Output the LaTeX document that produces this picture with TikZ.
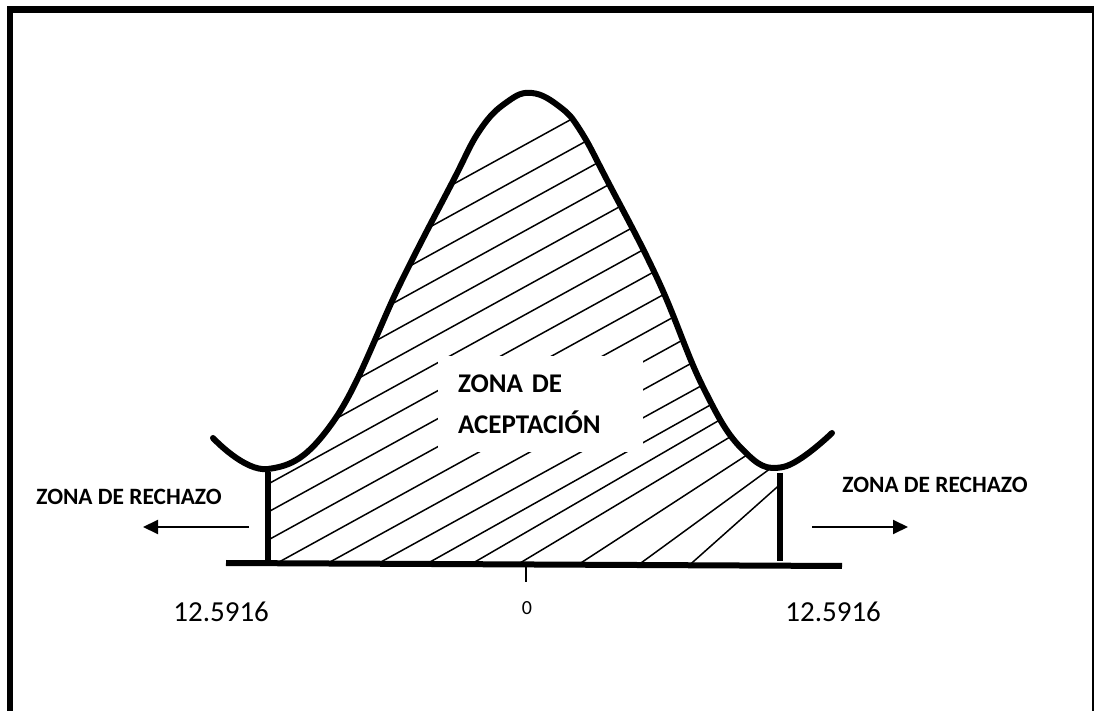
\documentclass[tikz,border=0pt]{standalone}
\usepackage{fontspec}
\setmainfont{Carlito}[BoldFont={Carlito Bold}]
\usepackage{tikz}
\usetikzlibrary{arrows.meta, positioning}
\tikzstyle{thickline} = [draw, line width=3pt]
\tikzstyle{rejectarrow} = [draw, -{Triangle[length=7.5pt,width=7pt]}, line width=1pt]

\begin{document}
\begin{tikzpicture}[x=0.5pt,y=-0.5pt]
  \tikzset{
    hatchline/.style={draw, line width=0.75pt},
    zonelabel/.style={font=\bfseries\fontsize{11.7}{14}\selectfont, inner sep=0pt, anchor=base west},
    valuelabel/.style={font=\fontsize{14.5}{17}\selectfont, inner sep=0pt, anchor=base west},
    acceptbox/.style={
      fill=white,
      font=\bfseries\fontsize{13.5}{20.5}\selectfont,
      align=left,
      text width=82.5pt,
      inner xsep=10pt,
      minimum width=102.5pt,
      minimum height=48pt
    },
    bellcurve/.style={smooth, tension=0.7}
  }
  \useasboundingbox (0,0) rectangle (1094,711);

  % frame
  \draw[line width=3pt] (10,711) -- (10,6);
  \draw[line width=3.5pt] (7,9.5) -- (1094,9.5);
  \draw[line width=1pt] (1093,9.5) -- (1093,711);

  % hatching under the curve
  \begin{scope}
    \clip (268,60) rectangle (780,563);
    \clip plot[bellcurve] coordinates {
      (213,438) (268,469) (333,422) (402,280) (452,183) (480,130) (507,102)
      (532,93) (560,107) (580,130) (607,180) (658,280) (703,387) (743,450)
      (783,467) (832,433)}
      -- (832,563) -- (213,563) -- cycle;
    \foreach \c/\s in {142/0.55,172/0.55,200/0.55,228/0.55,256/0.55,284/0.55,
                       312/0.55,340/0.55,368/0.55,396/0.55,424/0.55,452/0.55,
                       480/0.55,506/0.56,530/0.58,557/0.6,596/0.65,644/0.73,707/0.89}
      \draw[hatchline] (200,{\c+330*\s}) -- (860,{\c-330*\s});
  \end{scope}

  % curve
  \draw[line width=3pt, line cap=round] plot[bellcurve] coordinates {
    (213,438) (268,469) (333,422) (402,280) (452,183) (480,130) (507,102)
    (532,93) (560,107) (580,130) (607,180) (658,280) (703,387) (743,450)
    (783,467) (832,433)};

  % axis, bounds, tick
  \coordinate (axisl) at (226,563);
  \coordinate (axisr) at (842,566);
  \draw[thickline] (axisl) -- (axisr);
  \coordinate (lowtop) at (268,472);
  \coordinate (lowbot) at (268,560);
  \coordinate (uptop) at (780,473);
  \coordinate (upbot) at (780,561);
  \draw[thickline] (lowtop) -- (lowbot);
  \draw[thickline] (uptop) -- (upbot);
  \coordinate (ticktop) at (526,566);
  \coordinate (tickbot) at (526,582);
  \draw[line width=0.8pt] (ticktop) -- (tickbot);

  \node[acceptbox] (accept) at (540.5,404) {ZONA DE\\ACEPTACIÓN};

  % rejection zones
  \node[zonelabel] (rejleft) at (36,505) {ZONA DE RECHAZO};
  \node[zonelabel] (rejright) at (842,493) {ZONA DE RECHAZO};
  \coordinate (larrs) at (249,527);
  \coordinate (larre) at (143,527);
  \coordinate (rarrs) at (812,527);
  \coordinate (rarre) at (908,527);
  \draw[rejectarrow] (larrs) -- (larre);
  \draw[rejectarrow] (rarrs) -- (rarre);

  % values
  \node[valuelabel] (critleft) at (173,622) {12.5916};
  \node[valuelabel] (critright) at (785,622) {12.5916};
  \node[font=\fontsize{10}{12}\selectfont, inner sep=0pt, anchor=base] (zero) at (527,615) {0};
\end{tikzpicture}
\end{document}
